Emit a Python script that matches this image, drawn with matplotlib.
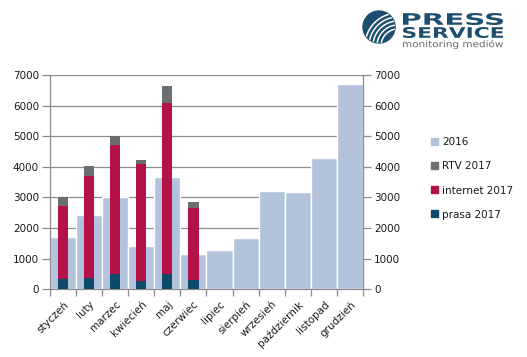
import matplotlib
matplotlib.use("Agg")
import matplotlib.pyplot as plt
import numpy as np
from matplotlib.textpath import TextPath
from matplotlib.patches import PathPatch, Circle, Patch
from matplotlib.font_manager import FontProperties
from matplotlib.transforms import Affine2D

months = ["styczeń", "luty", "marzec", "kwiecień", "maj", "czerwiec", "lipiec",
          "sierpień", "wrzesień", "październik", "listopad", "grudzień"]
v2016 = [1720, 2440, 3000, 1425, 3680, 1165, 1290, 1690, 3220, 3190, 4300, 6710]
prasa2017 = [340, 380, 510, 280, 510, 310]
internet2017 = [2390, 3330, 4215, 3825, 5590, 2355]
rtv2017 = [290, 320, 285, 130, 555, 195]
yticks = [0, 1000, 2000, 3000, 4000, 5000, 6000, 7000]

c2016 = "#B4C3DC"
crtv = "#6B6E71"
cint = "#B5124A"
cpr = "#0E4A6B"
gcol = "#8C8C8C"

fig = plt.figure(figsize=(5.27, 3.57), dpi=100)
ax = fig.add_axes([50/527, 1-289.3/357, (363-50)/527, (289.3-75)/357])
x = np.arange(len(months))
ax.bar(x, v2016, width=1.0, color=c2016, edgecolor="white", linewidth=1.0, zorder=2)
ax.set_xlim(-0.5, 11.5)
ax.set_ylim(0, 7000)
ax.set_yticks(yticks)
ax.grid(axis="y", color=gcol, linewidth=0.9, zorder=0)
ax.set_axisbelow(True)

ax2 = ax.twinx()
x2 = np.arange(len(prasa2017))
w = 0.39
ax2.bar(x2, prasa2017, width=w, color=cpr, zorder=3)
b1 = np.array(prasa2017)
ax2.bar(x2, internet2017, width=w, bottom=b1, color=cint, zorder=3)
b2 = b1 + np.array(internet2017)
ax2.bar(x2, rtv2017, width=w, bottom=b2, color=crtv, zorder=3)
ax2.set_ylim(0, 7000)
ax2.set_yticks(yticks)

for a in (ax, ax2):
    a.spines["top"].set_visible(False)
    for s in ("left", "right", "bottom"):
        a.spines[s].set_color(gcol)
        a.spines[s].set_linewidth(0.9)
    a.tick_params(axis="y", length=6, width=0.9, color=gcol, labelsize=7.5,
                  labelcolor="#1a1a1a", pad=2)
ax2.spines["left"].set_visible(False)
ax2.spines["bottom"].set_visible(False)
ax.spines["right"].set_visible(False)

ax.set_xticks(x)
ax.set_xticklabels(months, rotation=45, ha="right", rotation_mode="anchor",
                   fontsize=7.5, color="#1a1a1a")
ax.tick_params(axis="x", which="major", length=0, pad=7)
ax.set_xticks(np.arange(-0.5, 12, 1), minor=True)
ax.tick_params(axis="x", which="minor", length=5, width=0.9, color=gcol)

handles = [Patch(color=c2016), Patch(color=crtv), Patch(color=cint), Patch(color=cpr)]
labels = ["2016", "RTV 2017", "internet 2017", "prasa 2017"]
fig.legend(handles, labels, loc="upper left", bbox_to_anchor=(422/527, 1-128/357),
           frameon=False, fontsize=7.5, handlelength=0.65, handleheight=0.65,
           handletextpad=0.35, labelspacing=1.35, labelcolor="#1a1a1a")

# logo
lax = fig.add_axes([0, 0, 1, 1])
lax.set_xlim(0, 527)
lax.set_ylim(357, 0)
lax.axis("off")
logo = "#1D4E6E"
lax.add_patch(Circle((379, 27), 16, color=logo))
clip = Circle((379, 27), 16, transform=lax.transData)
for off in [-9, -5, -1, 3, 7]:
    t = np.linspace(np.pi*1.0, np.pi*1.5, 40)
    R = 26 + off
    cxx, cyy = 379 + 19, 27 + 19
    xs = cxx + R * np.cos(t)
    ys = cyy + R * np.sin(t)
    ln, = lax.plot(xs, ys, color="white", linewidth=1.1, solid_capstyle="round")
    ln.set_clip_path(clip)

def fit_text(s, x0, y0, x1, y1, color, weight="bold", family="DejaVu Sans"):
    fp = FontProperties(family=family, weight=weight)
    tp = TextPath((0, 0), s, size=10, prop=fp)
    bb = tp.get_extents()
    sx = (x1 - x0) / bb.width
    sy = (y1 - y0) / bb.height
    tr = Affine2D().translate(-bb.x0, -bb.y0).scale(sx, -sy).translate(x0, y1)
    lax.add_patch(PathPatch(tr.transform_path(tp), color=color, lw=0))

fit_text("PRESS", 403, 13, 503, 25, logo)
fit_text("SERVICE", 403, 27, 503, 38, logo)
fit_text("monitoring mediów", 403, 40, 503, 49, "#6a6a6a", weight="normal")

fig.savefig("out.png", dpi=100)
